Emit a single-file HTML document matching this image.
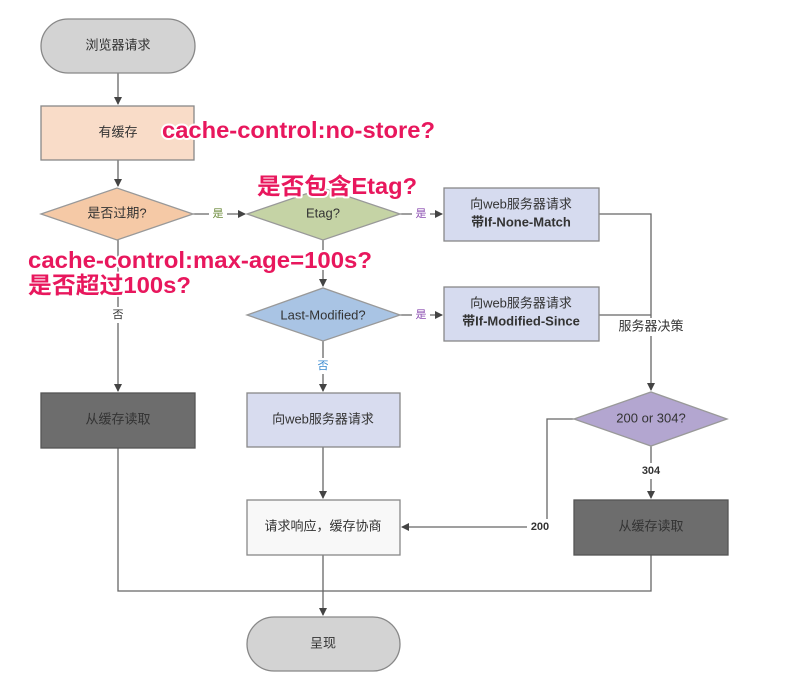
<!DOCTYPE html>
<html><head><meta charset="utf-8"><style>
html,body{margin:0;padding:0;background:#fff;width:786px;height:679px;overflow:hidden}
svg{display:block}
text{font-family:"Liberation Sans","Noto Sans CJK SC",sans-serif}
.t{font-size:13px;fill:#333;text-anchor:middle;dominant-baseline:middle}
.ann{font-size:23px;font-weight:bold;fill:#e8175d;stroke:#fff;stroke-width:4px;paint-order:stroke;stroke-linejoin:round}
.l{stroke:#666;stroke-width:1.3;fill:none}
.lb{font-size:11px;text-anchor:middle;dominant-baseline:middle}
</style></head><body>
<svg width="786" height="679" viewBox="0 0 786 679">
<defs><marker id="a" markerWidth="8" markerHeight="8" refX="7" refY="4" orient="auto" markerUnits="userSpaceOnUse"><path d="M0,0 L8,4 L0,8z" fill="#444"/></marker></defs>
<path class="l" d="M118,73 V104" marker-end="url(#a)"/>
<path class="l" d="M118,160 V186" marker-end="url(#a)"/>
<path class="l" d="M193,214 H245" marker-end="url(#a)"/>
<path class="l" d="M400,214 H442" marker-end="url(#a)"/>
<path class="l" d="M323,240 V286" marker-end="url(#a)"/>
<path class="l" d="M400,315 H442" marker-end="url(#a)"/>
<path class="l" d="M118,240 V391" marker-end="url(#a)"/>
<path class="l" d="M323,340 V391" marker-end="url(#a)"/>
<path class="l" d="M323,447 V498" marker-end="url(#a)"/>
<path class="l" d="M599,214 H651 V390" marker-end="url(#a)"/>
<path class="l" d="M599,315 H651"/>
<path class="l" d="M574,419 H547 V527 H402" marker-end="url(#a)"/>
<path class="l" d="M651,446 V498" marker-end="url(#a)"/>
<path class="l" d="M118,448 V591 H651 V555"/>
<path class="l" d="M323,555 V615" marker-end="url(#a)"/>
<rect x="209" y="205" width="18" height="17" fill="#fff"/><text class="lb" x="218" y="214" fill="#6b8a3a">是</text>
<rect x="412" y="205" width="18" height="17" fill="#fff"/><text class="lb" x="421" y="214" fill="#8a4bb0">是</text>
<rect x="412" y="306" width="18" height="17" fill="#fff"/><text class="lb" x="421" y="315" fill="#8a4bb0">是</text>
<rect x="110" y="307" width="16" height="16" fill="#fff"/><text class="lb" x="118" y="315" fill="#333">否</text>
<rect x="315" y="358" width="16" height="16" fill="#fff"/><text class="lb" x="323" y="366" fill="#3a8ad0">否</text>
<rect x="612" y="318" width="78" height="18" fill="#fff"/><text class="t" x="651" y="327">服务器决策</text>
<rect x="638" y="463" width="26" height="16" fill="#fff"/><text class="lb" x="651" y="471" fill="#333" font-weight="bold">304</text>
<rect x="527" y="519" width="26" height="16" fill="#fff"/><text class="lb" x="540" y="527" fill="#333" font-weight="bold">200</text>
<rect x="41" y="19" width="154" height="54" rx="27" fill="#d3d3d3" stroke="#888" stroke-width="1.3"/>
<text class="t" x="118" y="46">浏览器请求</text>
<rect x="41" y="106" width="153" height="54" fill="#f9dcc8" stroke="#888" stroke-width="1.3"/>
<text class="t" x="118" y="133">有缓存</text>
<path d="M41,214 L117,188 L193,214 L117,240z" fill="#f5c9a6" stroke="#999" stroke-width="1.3"/>
<text class="t" x="117" y="214" font-size="14">是否过期?</text>
<path d="M247,214 L323,188 L400,214 L323,240z" fill="#c5d3a5" stroke="#999" stroke-width="1.3"/>
<text class="t" x="323" y="214" font-size="14">Etag?</text>
<rect x="444" y="188" width="155" height="53" fill="#d6dbef" stroke="#888" stroke-width="1.3"/>
<text class="t" x="521" y="205">向web服务器请求</text>
<text class="t" x="521" y="223" font-weight="bold">带If-None-Match</text>
<path d="M247,315 L323,288 L400,315 L323,341z" fill="#a9c4e4" stroke="#999" stroke-width="1.3"/>
<text class="t" x="323" y="316" font-size="14">Last-Modified?</text>
<rect x="444" y="287" width="155" height="54" fill="#d6dbef" stroke="#888" stroke-width="1.3"/>
<text class="t" x="521" y="304">向web服务器请求</text>
<text class="t" x="521" y="322" font-weight="bold" font-size="12">带If-Modified-Since</text>
<rect x="41" y="393" width="154" height="55" fill="#6d6d6d" stroke="#555" stroke-width="1.3"/>
<text class="t" x="118" y="420" fill="#222">从缓存读取</text>
<rect x="247" y="393" width="153" height="54" fill="#d8dcef" stroke="#888" stroke-width="1.3"/>
<text class="t" x="323" y="420" font-size="14">向web服务器请求</text>
<path d="M574,419 L651,392 L727,419 L651,446z" fill="#b3a6d0" stroke="#999" stroke-width="1.3"/>
<text class="t" x="651" y="419" font-size="15">200 or 304?</text>
<rect x="247" y="500" width="153" height="55" fill="#f8f8f8" stroke="#888" stroke-width="1.3"/>
<text class="t" x="323" y="527">请求响应，缓存协商</text>
<rect x="574" y="500" width="154" height="55" fill="#6d6d6d" stroke="#555" stroke-width="1.3"/>
<text class="t" x="651" y="527" fill="#222">从缓存读取</text>
<rect x="247" y="617" width="153" height="54" rx="27" fill="#d3d3d3" stroke="#888" stroke-width="1.3"/>
<text class="t" x="323" y="644">呈现</text>
<text class="ann" x="162" y="138" textLength="273" lengthAdjust="spacingAndGlyphs">cache-control:no-store?</text>
<text class="ann" x="257" y="194" textLength="160" lengthAdjust="spacingAndGlyphs">是否包含Etag?</text>
<text class="ann" x="28" y="268" textLength="344" lengthAdjust="spacingAndGlyphs">cache-control:max-age=100s?</text>
<text class="ann" x="28" y="293" textLength="163" lengthAdjust="spacingAndGlyphs">是否超过100s?</text>
</svg>
</body></html>
